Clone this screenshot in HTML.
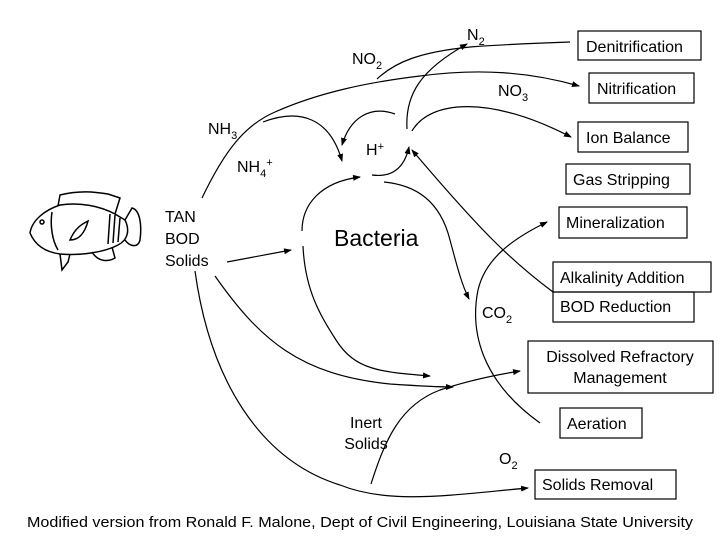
<!DOCTYPE html>
<html><head><style>
body{margin:0;background:#fff;}
svg text{font-family:"Liberation Sans",sans-serif;fill:#000;}
</style></head><body>
<svg width="728" height="546" viewBox="0 0 728 546" xmlns="http://www.w3.org/2000/svg">
<defs><marker id="a" markerWidth="8" markerHeight="6" refX="7" refY="3" orient="auto" markerUnits="userSpaceOnUse"><path d="M0,0 L8,3 L0,6 Z" fill="#000"/></marker></defs>
<g fill="none" stroke="#000" stroke-width="1.2">
<rect x="578" y="31" width="123" height="29"/>
<rect x="589" y="73" width="105" height="30"/>
<rect x="578" y="122" width="110" height="30"/>
<rect x="566" y="164" width="124" height="30"/>
<rect x="559" y="207" width="128" height="31"/>
<rect x="553" y="262" width="158" height="30"/>
<rect x="553" y="292" width="141" height="30"/>
<rect x="528" y="341" width="185" height="52"/>
<rect x="560" y="408" width="82" height="30"/>
<rect x="535" y="470" width="141" height="29"/>
<path d="M202,198 C225,150 245,125 275,112 C320,92 370,82 420,76 C480,68 530,72 579,86" marker-end="url(#a)"/>
<path d="M377,79 C395,62 420,52 470,47 C510,44 540,43 570,42"/>
<path d="M407,129 C405,95 420,70 467,44" marker-end="url(#a)"/>
<path d="M263,122 C300,108 330,118 342,161" marker-end="url(#a)"/>
<path d="M395,114 C370,105 350,118 342,145" marker-end="url(#a)"/>
<path d="M412,131 C430,100 490,95 571,137" marker-end="url(#a)"/>
<path d="M372,175 C395,178 405,165 409,147" marker-end="url(#a)"/>
<path d="M302,231 C302,205 320,182 360,177" marker-end="url(#a)"/>
<path d="M303,246 C305,290 320,315 336,340 C355,370 380,372 430,376" marker-end="url(#a)"/>
<path d="M384,182 C415,185 440,200 450,240 C458,270 462,285 469,299" marker-end="url(#a)"/>
<path d="M553,292 C510,260 480,230 412,150" marker-end="url(#a)"/>
<path d="M540,423 C480,380 470,330 478,290 C485,260 510,240 547,222" marker-end="url(#a)"/>
<path d="M227,262 L291,250" marker-end="url(#a)"/>
<path d="M215,276 C260,340 300,375 390,384 C420,386 440,387 453,387" marker-end="url(#a)"/>
<path d="M195,271 C210,380 260,460 340,485 C390,505 450,495 528,488" marker-end="url(#a)"/>
<path d="M371,484 C385,440 400,405 440,390 C470,380 495,375 520,371" marker-end="url(#a)"/>
<g stroke-width="1.5">
<path d="M30,233 C32,220 45,210 60,205 C80,202 100,206 115,214 L125,220 C130,230 128,240 118,245 C105,252 80,256 60,254 C45,252 35,245 30,233 Z"/>
<path d="M58,206 L60,195 C80,190 95,192 108,194 L120,198 L115,214"/>
<path d="M125,220 L132,208 C140,210 142,225 140,240 C138,248 130,247 125,240"/>
<path d="M70,240 C75,228 82,224 88,221 C85,232 80,240 70,240 Z"/>
<path d="M60,254 L62,270 L68,262 L70,254"/>
<path d="M92,252 C98,262 108,262 115,258 L112,247"/>
<path d="M52,212 C50,225 52,240 58,250"/>
<circle cx="42" cy="222" r="2"/>
<path d="M110,214 L108,244 M115,215 L113,243 M120,218 L118,242"/>
</g>
</g>
<g font-size="16">
<text x="586" y="52">Denitrification</text>
<text x="597" y="94">Nitrification</text>
<text x="586" y="143">Ion Balance</text>
<text x="573" y="185">Gas Stripping</text>
<text x="566" y="228">Mineralization</text>
<text x="560" y="283">Alkalinity Addition</text>
<text x="560" y="312">BOD Reduction</text>
<text x="620" y="362" text-anchor="middle">Dissolved Refractory</text>
<text x="620" y="383" text-anchor="middle">Management</text>
<text x="567" y="429">Aeration</text>
<text x="542" y="490">Solids Removal</text>
<text x="467" y="40">N<tspan font-size="11" dy="5">2</tspan></text>
<text x="352" y="64">NO<tspan font-size="11" dy="5">2</tspan></text>
<text x="498" y="96">NO<tspan font-size="11" dy="5">3</tspan></text>
<text x="208" y="134">NH<tspan font-size="11" dy="5">3</tspan></text>
<text x="237" y="172">NH<tspan font-size="11" dy="5">4</tspan><tspan font-size="11" dy="-11">+</tspan></text>
<text x="366" y="155">H<tspan font-size="11" dy="-5">+</tspan></text>
<text x="165" y="222">TAN</text>
<text x="165" y="244">BOD</text>
<text x="165" y="266">Solids</text>
<text x="482" y="318">CO<tspan font-size="11" dy="5">2</tspan></text>
<text x="366" y="428" text-anchor="middle">Inert</text>
<text x="366" y="449" text-anchor="middle">Solids</text>
<text x="499" y="464">O<tspan font-size="11" dy="5">2</tspan></text>
<text x="334" y="246" font-size="23">Bacteria</text>
</g>
<text x="27" y="527" font-size="15" textLength="666" lengthAdjust="spacingAndGlyphs">Modified version from Ronald F. Malone, Dept of Civil Engineering, Louisiana State University</text>
</svg>
</body></html>
